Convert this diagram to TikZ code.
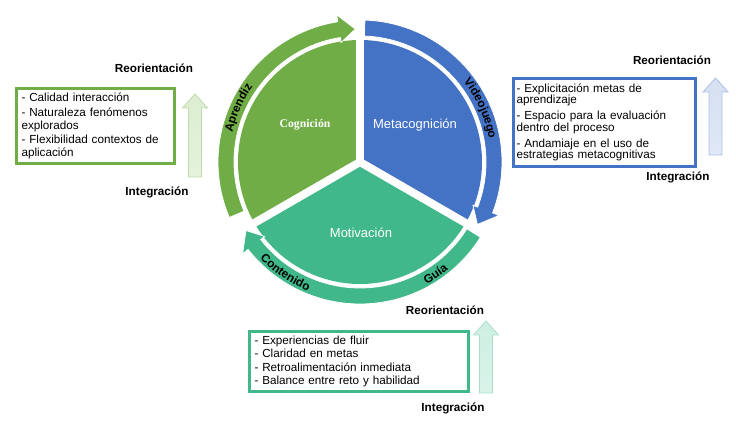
\documentclass[tikz,border=0pt]{standalone}
\usepackage{fontspec}
\setmainfont{Liberation Sans}
\newfontfamily\cogfont{Liberation Serif}
\usetikzlibrary{positioning, calc, decorations.text}

\definecolor{cgreen}{HTML}{70AD47}
\definecolor{cblue}{HTML}{4472C4}
\definecolor{cteal}{RGB}{65,184,137}
\definecolor{lgreen}{HTML}{DCEDD0}
\definecolor{lblue}{HTML}{D5E0F2}
\definecolor{lteal}{HTML}{CDEFE2}

\newcommand{\ringfont}{\fontsize{11.8}{12}\selectfont\bfseries}
% ring arrow: start angle, tip angle, colour (clockwise)
\newcommand{\ringarrow}[3]{%
  \fill[#3, draw=white, line width=0.8pt] (#1:142) arc[start angle=#1, end angle={#2+7}, radius=142pt]
    -- ({#2+7}:149) -- (#2:133) -- ({#2+7}:121) -- ({#2+7}:126)
    arc[start angle={#2+7}, end angle=#1, radius=126pt] -- cycle;}
% up arrow: x, bottom y, shaft length, light colour, base colour
\newcommand{\riser}[5]{%
  \draw[#5!45!white, bottom color=#4!75!white, top color=#4, line width=0.8pt]
    (#1,#2) ++(-6.5,0) -- ++(0,#3) -- ++(-6,0) -- ++(12.5,14) -- ++(12.5,-14) -- ++(-6,0) -- ++(0,-#3) -- cycle;}

\tikzset{
  infobox/.style={draw, line width=3pt, align=left, inner ysep=2pt},
  steplabel/.style={font=\fontsize{11.7}{12}\selectfont\bfseries},
  partlabel/.style={text=white, font=\fontsize{13}{14}\selectfont},
}

\begin{document}
\begin{tikzpicture}[x=1pt, y=1pt]
\useasboundingbox (0,0) rectangle (736,425);
\coordinate (C) at (360,263);

\begin{scope}[shift={(C)}]
  % pie
  \fill[cgreen] (0,0) -- (90:122) arc[start angle=90, end angle=210, radius=122pt] -- cycle;
  \fill[cblue] (0,0) -- (-30:122) arc[start angle=-30, end angle=90, radius=122pt] -- cycle;
  \fill[cteal] (0,0) -- (210:122) arc[start angle=210, end angle=330, radius=122pt] -- cycle;
  \foreach \a in {90, 210, 330}
    \draw[white, line width=8pt] (0,0) -- (\a:125);
  % ring
  \ringarrow{203}{92}{cgreen}
  \ringarrow{88}{-28}{cblue}
  \ringarrow{328}{211}{cteal}
  % ring labels
  \path[decorate, decoration={text along path, text={|\ringfont|Aprendiz}, text align=center}]
    (178:131) arc[start angle=178, end angle=134, radius=131pt];
  \path[decorate, decoration={text along path, text={|\ringfont|Videojuego}, text align=center}]
    (52:131) arc[start angle=52, end angle=-4, radius=131pt];
  \path[decorate, decoration={text along path, text={|\ringfont|Contenido}, text align=center}]
    (208:139) arc[start angle=208, end angle=264, radius=139pt];
  \path[decorate, decoration={text along path, text={|\ringfont|Guía}, text align=center}]
    (286:139) arc[start angle=286, end angle=322, radius=139pt];
\end{scope}

\node (cog) [text=white, font=\cogfont\fontsize{11.7}{12}\selectfont\bfseries] at (305,300) {Cognición};
\node (meta) [partlabel] at (415,300) {Metacognición};
\node (mot) [partlabel] at (361,192) {Motivación};

% cognition box
\node (cogbox) [infobox, draw=cgreen, text width=148pt, inner xsep=5pt, minimum height=75pt,
  font=\fontsize{11.7}{12.7}\selectfont] at (95.5,299)
  {- Calidad interacción\\[1.8pt]- Naturaleza fenómenos\\explorados\\[1.8pt]- Flexibilidad contextos de\\aplicación};
\node (cogreo) [steplabel] at (154,357) {Reorientación};
\node (cogint) [steplabel] at (157,233) {Integración};
\riser{195}{248}{69}{lgreen}{cgreen}

% metacognition box
\node (metabox) [infobox, draw=cblue, text width=176pt, inner xsep=3pt, minimum height=88pt,
  font=\fontsize{11.7}{11.6}\selectfont] at (604.5,302.5)
  {- Explicitación metas de\\aprendizaje\\[4.4pt]- Espacio para la evaluación\\dentro del proceso\\[4.4pt]- Andamiaje en el uso de\\estrategias metacognitivas};
\node (metareo) [steplabel] at (672,365) {Reorientación};
\node (metaint) [steplabel] at (678,248) {Integración};
\riser{715.5}{270}{63}{lblue}{cblue}

% motivation box
\node (motbox) [infobox, draw=cteal, text width=209pt, inner xsep=5pt, minimum height=60pt,
  font=\fontsize{11.7}{13.3}\selectfont] at (359,63.5)
  {- Experiencias de fluir\\- Claridad en metas\\- Retroalimentación inmediata\\- Balance entre reto y habilidad};
\node (motreo) [steplabel] at (445,115) {Reorientación};
\node (motint) [steplabel] at (453,17) {Integración};
\riser{486}{32}{58}{lteal}{cteal}
\end{tikzpicture}
\end{document}
